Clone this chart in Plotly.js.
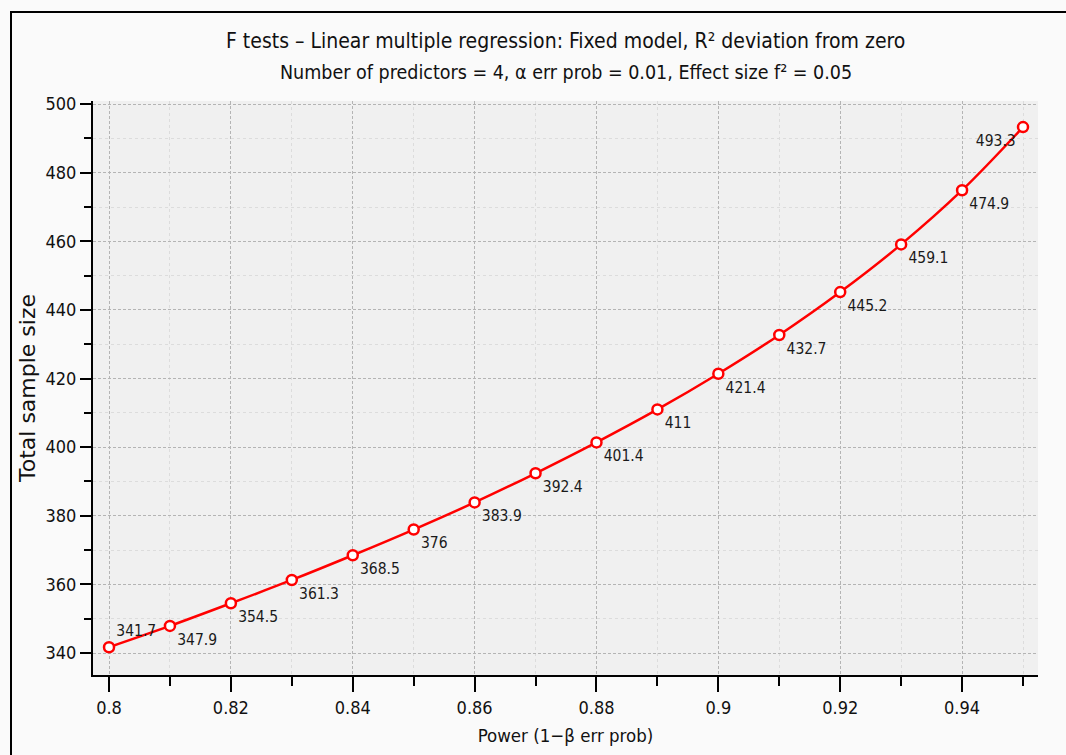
<!DOCTYPE html>
<html><head><meta charset="utf-8">
<script src="https://cdn.plot.ly/plotly-3.0.1.min.js"></script>
<style>
html,body{margin:0;padding:0;background:#fafafa;}
#frame{position:absolute;left:10px;top:11px;width:1070px;height:760px;border:2px solid #000;box-sizing:border-box;}
#plot{position:absolute;left:0;top:0;width:1066px;height:755px;}
</style></head>
<body>
<div id="frame"></div>
<div id="plot"></div>
<script>
const power = [0.80,0.81,0.82,0.83,0.84,0.85,0.86,0.87,0.88,0.89,0.90,0.91,0.92,0.93,0.94,0.95];
const sampleSize = [341.7,347.9,354.5,361.3,368.5,376,383.9,392.4,401.4,411,421.4,432.7,445.2,459.1,474.9,493.3];
const labels = sampleSize.map(v => String(v));
const positions = sampleSize.map((v,i) => i===0 ? 'top right' : (i===sampleSize.length-1 ? 'bottom left' : 'bottom right'));

const FONT = '"DejaVu Sans Condensed", sans-serif';
const FONT_WIDE = '"DejaVu Sans", sans-serif';

const trace = {
  x: power, y: sampleSize, mode: 'lines+markers+text', type: 'scatter',
  line: {color: '#ff0000', width: 2.5, shape: 'spline'},
  marker: {symbol: 'circle', size: 10, color: '#ffffff', line: {color: '#ff0000', width: 2.5}},
  text: labels, textposition: positions,
  textfont: {family: FONT, size: 15.5, color: '#1a1a1a'},
  cliponaxis: false, hoverinfo: 'none'
};

const layout = {
  width: 1066, height: 755,
  margin: {l: 93, r: 28, t: 101, b: 80},
  paper_bgcolor: 'rgba(0,0,0,0)', plot_bgcolor: '#f0f0f0',
  showlegend: false,
  font: {family: FONT, color: '#111'},
  xaxis: {
    range: [0.79737, 0.95246], dtick: 0.02, tick0: 0.8,
    showline: true, linecolor: '#000', linewidth: 2, zeroline: false,
    ticks: 'outside', ticklen: 15, tickwidth: 2, tickcolor: '#000',
    tickfont: {family: FONT, size: 18, color: '#111'},
    showgrid: true, gridcolor: '#b4b4b4', griddash: '3px,2px', gridwidth: 1,
    minor: {dtick: 0.01, tick0: 0.8, ticks: 'outside', ticklen: 9, tickwidth: 2, tickcolor: '#000', showgrid: true, gridcolor: '#dcdcdc', griddash: 'dot'},
    title: {text: 'Power (1−β err prob)', font: {family: FONT, size: 18.5, color: '#111'}, standoff: 12}
  },
  yaxis: {
    range: [333.6, 500.9], dtick: 20, tick0: 340,
    showline: true, linecolor: '#000', linewidth: 2, zeroline: false,
    ticks: 'outside', ticklen: 11, tickwidth: 2, tickcolor: '#000',
    tickfont: {family: FONT, size: 18, color: '#111'},
    showgrid: true, gridcolor: '#b4b4b4', griddash: '3px,2px', gridwidth: 1,
    minor: {dtick: 10, tick0: 340, ticks: 'outside', ticklen: 7, tickwidth: 2, tickcolor: '#000', showgrid: true, gridcolor: '#dcdcdc', griddash: 'dot'},
    title: {text: 'Total sample size', font: {family: FONT_WIDE, size: 22, color: '#111'}, standoff: 4}
  },
  annotations: [
    {text: 'F tests – Linear multiple regression: Fixed model, R² deviation from zero', xref: 'paper', yref: 'paper', x: 0.5, y: 1, yshift: 60, showarrow: false, xanchor: 'center', yanchor: 'middle', font: {family: FONT, size: 21, color: '#111'}},
    {text: 'Number of predictors = 4, α err prob = 0.01, Effect size f² = 0.05', xref: 'paper', yref: 'paper', x: 0.5, y: 1, yshift: 29, showarrow: false, xanchor: 'center', yanchor: 'middle', font: {family: FONT, size: 19.5, color: '#111'}}
  ]
};

Plotly.newPlot('plot', [trace], layout, {displayModeBar: false, staticPlot: true});
</script>
</body></html>
